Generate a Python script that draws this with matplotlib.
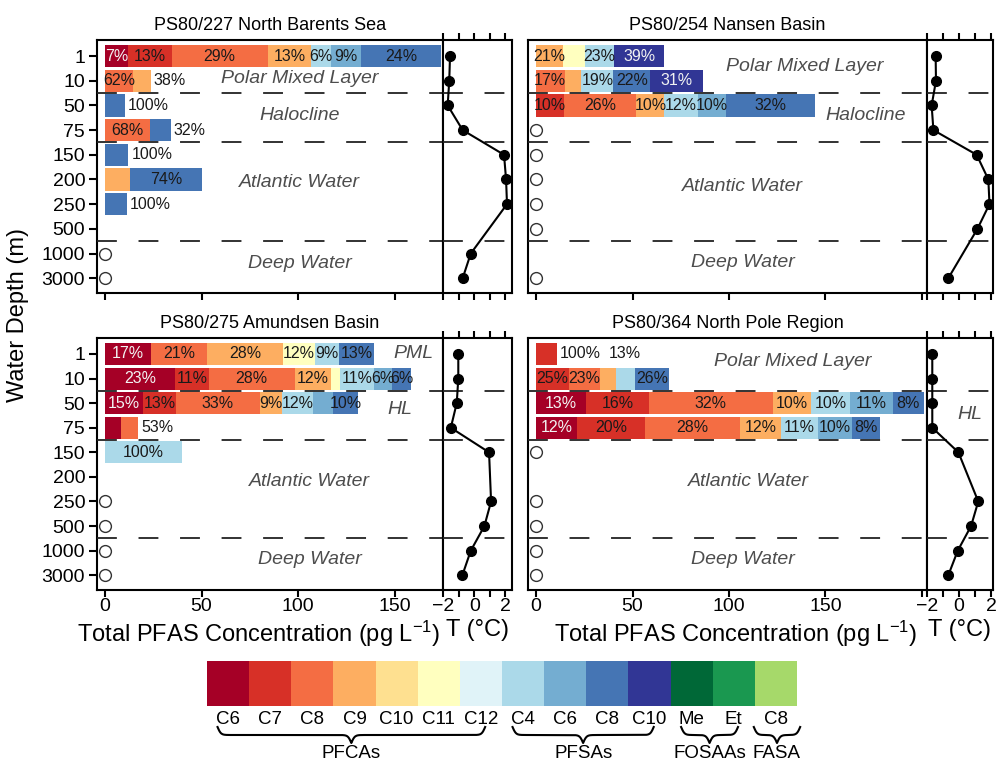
import numpy as np
import matplotlib
matplotlib.use('Agg')
import matplotlib.pyplot as plt

plt.rcParams['font.family'] = ['Liberation Sans', 'DejaVu Sans']
plt.rcParams['mathtext.default'] = 'regular'

nan = np.nan

# depth classes (categorical y axis)
depths = ['1', '10', '50', '75', '150', '200', '250', '500', '1000', '3000']

# legend: compounds in colour order
compounds = ['C6', 'C7', 'C8', 'C9', 'C10', 'C11', 'C12', 'C4', 'C6', 'C8', 'C10', 'Me', 'Et', 'C8']
colours = ['#a50026', '#d73027', '#f46d43', '#fdae61', '#fee090', '#ffffbf', '#e0f3f8',
           '#abd9e9', '#74add1', '#4575b4', '#313695', '#006837', '#1a9850', '#a6d96a']
group_names = ['PFCAs', 'PFSAs', 'FOSAAs', 'FASA']
group_first = [0, 7, 11, 13]
group_last = [6, 10, 12, 13]

# total PFAS (pg/L); 0 = not detected (open circle), nan = no sample
s227_total = [174, 23.8, 10.4, 34.2, 12.1, 50.1, 11.2, nan, 0, 0]
s227_comp = [[0, 1, 2, 3, 7, 8, 9], [2, 3], [9], [2, 9], [9], [3, 9], [9], [], [], []]
s227_pct = [[7, 13, 29, 13, 6, 9, 24], [62, 38], [100], [68, 32], [100], [26, 74], [100], [], [], []]
s227_hide = [(5, 3)]
s227_temp = [-1.55, -1.6, -1.7, -0.74, 1.91, 2.04, 2.1, nan, -0.22, -0.74]

s254_total = [66.5, 86.3, 144.5, 0, 0, 0, 0, 0, nan, 0]
s254_comp = [[3, 5, 7, 10], [2, 3, 7, 9, 10], [1, 2, 3, 7, 8, 9], [], [], [], [], [], [], []]
s254_pct = [[21, 17, 23, 39], [17, 10, 19, 22, 31], [10, 26, 10, 12, 10, 32], [], [], [], [], [], [], []]
s254_hide = [(0, 5), (1, 3)]
s254_temp = [-1.46, -1.44, -1.71, -1.6, 1.1, 1.83, 1.9, 1.15, nan, -0.67]

s275_total = [139.5, 158.4, 131.3, 17.3, 40, nan, 0, 0, 0, 0]
s275_comp = [[0, 2, 3, 5, 7, 9], [0, 1, 2, 3, 5, 7, 8, 9], [0, 1, 2, 3, 7, 8, 9], [0, 2], [7],
             [], [], [], [], []]
s275_pct = [[17, 21, 28, 12, 9, 13], [23, 11, 28, 12, 3, 11, 6, 6], [15, 13, 33, 9, 12, 8, 10],
            [47, 53], [100], [], [], [], [], []]
s275_hide = [(1, 5), (2, 8), (3, 0)]
s275_temp = [-1.02, -1.02, -1.12, -1.5, 0.95, nan, 1.08, 0.65, -0.22, -0.76]

s364_total = [10.7, 69, 201, 178, 0, nan, 0, 0, 0, 0]
s364_comp = [[1], [1, 2, 3, 7, 9], [0, 1, 2, 3, 7, 8, 9], [0, 1, 2, 3, 7, 8, 9], [], [], [], [], [], []]
s364_pct = [[100], [25, 23, 12, 14, 26], [13, 16, 32, 10, 10, 11, 8], [12, 20, 28, 12, 11, 10, 8],
            [], [], [], [], [], []]
s364_hide = [(1, 3), (1, 7)]
s364_temp = [-1.67, -1.67, -1.67, -1.67, -0.04, nan, 1.2, 0.75, -0.08, -0.67]

W, H = 998, 765
fig = plt.figure(figsize=(W / 100, H / 100), dpi=100)


def box(x0, y0, x1, y1):
    return [x0 / W, 1 - y1 / H, (x1 - x0) / W, (y1 - y0) / H]


pct_size = 11.5
tick_size = 14
region_colour = '#4d4d4d'


def text_px(s):
    return sum(0.889 if c == '%' else 0.556 for c in s) * pct_size * 100 / 72


def dashes(ax):
    for y in [1.5, 3.5, 7.5]:
        ax.axhline(y, color='#222222', lw=1.3, dashes=(11, 12), zorder=3)


def panel(px, py, xmax, tmax, title, total, comp, pct, hide, temp, bottom_row, left_col, xlab_pos=0.5):
    ax = fig.add_axes(box(px[0], py[0], px[1], py[1]))
    at = fig.add_axes(box(px[1], py[0], px[2], py[1]))
    ax.set_xlim(-4.15, xmax)
    ax.set_ylim(9.6, -0.65)
    at.set_xlim(-2, tmax)
    at.set_ylim(9.6, -0.65)
    upx = (px[1] - px[0]) / (xmax + 4.15)

    for r in range(len(depths)):
        tot = total[r]
        if np.isnan(tot):
            continue
        if tot == 0:
            ax.plot(0, r, 'o', ms=8.5, mfc='white', mec='#333333', mew=1.0, zorder=4)
            continue
        s = sum(pct[r])
        left = 0
        for c, p in zip(comp[r], pct[r]):
            w = tot * p / s
            ax.barh(r, w, left=left, height=0.9, color=colours[c], lw=0, zorder=2)
            if (r, c) not in hide:
                lab = '%d%%' % p
                tc = '#f2f2f2' if c in (0, 10) else '#1a1a1a'
                if w * upx >= 0.75 * text_px(lab):
                    ax.text(left + w / 2, r, lab, ha='center', va='center', fontsize=pct_size,
                            color=tc, zorder=5)
                else:
                    ax.text(tot + 1.5, r, lab, ha='left', va='center', fontsize=pct_size,
                            color='#1a1a1a', zorder=5)
            left += w

    t = np.array(temp, dtype=float)
    ok = ~np.isnan(t)
    at.plot(t[ok], np.arange(len(depths))[ok], '-o', color='black', lw=1.5, ms=7, zorder=4)

    dashes(ax)
    dashes(at)

    for a in (ax, at):
        for sp in a.spines.values():
            sp.set_linewidth(1.5)
    ax.set_xticks([0, 50, 100, 150] + ([200] if xmax > 200 else []))
    ax.set_xticklabels(['0', '50', '100', '150'] + ([''] if xmax > 200 else []))
    ax.tick_params(axis='x', length=5, width=1.5, labelsize=tick_size, pad=1, labelbottom=bottom_row)
    at.set_xticks([-2, 0, 2])
    at.set_xticklabels(['\u22122', '0', '2'])
    at.set_xticks([-1, 1], minor=True)
    at.tick_params(axis='x', which='both', length=5, width=1.5, labelsize=tick_size, pad=1,
                   top=True, labelbottom=bottom_row)
    at.set_yticks([])
    ax.set_yticks(range(len(depths)))
    if left_col:
        ax.set_yticklabels(depths)
        ax.tick_params(axis='y', length=6, width=1.5, labelsize=tick_size, pad=2.5)
    else:
        ax.tick_params(axis='y', left=False, labelleft=False)
    ax.set_title(title, fontsize=13, pad=7)
    if bottom_row:
        ax.set_xlabel('Total PFAS Concentration (pg L$^{-1}$)', fontsize=17, labelpad=2)
        ax.xaxis.set_label_coords(xlab_pos, -0.115)
        at.set_xlabel('T (\u00b0C)', fontsize=17, labelpad=2)
        at.xaxis.set_label_coords(0.5, -0.115)
    return ax, at


def region(a, x, y, s):
    a.text(x, y, s, ha='center', va='center', fontsize=14, style='italic', color=region_colour,
           zorder=6)


L = (97, 443, 512)
R = (528, 927, 993)
T = (40, 293)
B = (338, 590)

ax1, at1 = panel(L, T, 175.1, 2.42, 'PS80/227 North Barents Sea', s227_total, s227_comp, s227_pct,
                 s227_hide, s227_temp, False, True)
region(ax1, 101, 0.92, 'Polar Mixed Layer')
region(ax1, 101, 2.4, 'Halocline')
region(ax1, 101, 5.14, 'Atlantic Water')
region(ax1, 101, 8.42, 'Deep Water')

ax2, at2 = panel(R, T, 202.6, 2.12, 'PS80/254 Nansen Basin', s254_total, s254_comp, s254_pct,
                 s254_hide, s254_temp, False, False)
region(ax2, 139, 0.42, 'Polar Mixed Layer')
region(ax2, 171, 2.4, 'Halocline')
region(ax2, 107, 5.3, 'Atlantic Water')
region(ax2, 107, 8.38, 'Deep Water')

ax3, at3 = panel(L, B, 175.1, 2.42, 'PS80/275 Amundsen Basin', s275_total, s275_comp, s275_pct,
                 s275_hide, s275_temp, True, True, xlab_pos=0.468)
region(ax3, 160, -0.03, 'PML')
region(ax3, 153, 2.25, 'HL')
region(ax3, 106, 5.2, 'Atlantic Water')
region(ax3, 106, 8.34, 'Deep Water')

ax4, at4 = panel(R, B, 202.6, 2.12, 'PS80/364 North Pole Region', s364_total, s364_comp, s364_pct,
                 s364_hide, s364_temp, True, False, xlab_pos=0.521)
region(ax4, 133, 0.32, 'Polar Mixed Layer')
region(at4, 0.66, 2.45, 'HL')
region(ax4, 110, 5.2, 'Atlantic Water')
region(ax4, 107, 8.34, 'Deep Water')
ax4.text(46, 0, '13%', ha='center', va='center', fontsize=pct_size, color='#1a1a1a')

fig.text(18 / W, 1 - 315 / H, 'Water Depth (m)', rotation=90, ha='center', va='center', fontsize=17)

# colour key with braces
lg = fig.add_axes(box(207, 640, 797, 765))
lg.set_xlim(0, 14)
lg.set_ylim(125, 0)
lg.axis('off')
lg.bar(np.arange(14) + 0.5, 45, bottom=21, width=1.0, color=colours, lw=0)
for i, name in enumerate(compounds):
    lg.text(i + 0.5, 79, name, ha='center', va='center', fontsize=13.5)


def brace(a, x0, x1, y0, h):
    x = np.linspace(x0, x1, 401)
    half = x[:201]
    k = 25.0
    yh = 1 / (1 + np.exp(-k * (half - half[0]))) + 1 / (1 + np.exp(-k * (half - half[-1])))
    yy = np.concatenate([yh, yh[-2::-1]])
    a.plot(x, y0 + (yy - 0.5) * h, color='black', lw=1.5, clip_on=False)


for name, g0, g1 in zip(group_names, group_first, group_last):
    lo, hi = g0 + 0.25, g1 + 0.6
    if hi - lo < 1.1:
        mid = (lo + hi) / 2 + 0.1
        lo, hi = mid - 0.55, mid + 0.55
    brace(lg, lo, hi, 87, 16)
    lg.text((lo + hi) / 2, 114, name, ha='center', va='center', fontsize=13.5)

fig.savefig('out.png', dpi=100)
